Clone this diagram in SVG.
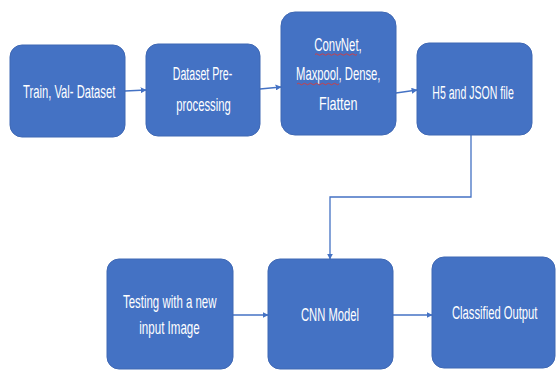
<svg xmlns="http://www.w3.org/2000/svg" width="557" height="370" viewBox="0 0 557 370">
<style>
.box{fill:#4472C4;stroke:#3f68b4;stroke-width:1}
.t{fill:#ffffff;font-family:"Liberation Sans",Arial,sans-serif;font-size:18px;text-anchor:middle}
.c{fill:none;stroke:#4472C4;stroke-width:1.3}
.sq{fill:none;stroke:#d83b3b;stroke-width:0.9}
</style>
<defs>
<marker id="ah" viewBox="0 0 10 10" refX="9" refY="5" markerWidth="6" markerHeight="6" orient="auto" markerUnits="userSpaceOnUse">
<path d="M0,0 L10,5 L0,10 z" fill="#4472C4"/>
</marker>
</defs>
<rect width="557" height="370" fill="#ffffff"/>
<g id="connectors">
<line class="c" x1="125" y1="91" x2="146" y2="90" marker-end="url(#ah)"/>
<line class="c" x1="260" y1="89" x2="281" y2="87" marker-end="url(#ah)"/>
<line class="c" x1="396" y1="93" x2="417" y2="90" marker-end="url(#ah)"/>
<polyline class="c" points="471,135 471,197 330,197 330,259" marker-end="url(#ah)"/>
<line class="c" x1="233" y1="315" x2="268" y2="315" marker-end="url(#ah)"/>
<line class="c" x1="393" y1="315" x2="432" y2="315" marker-end="url(#ah)"/>
</g>
<g id="n1">
<rect class="box" x="10" y="45" width="115" height="92" rx="12"/>
<text class="t" transform="translate(69.2,97.5) scale(0.623,1)">Train, Val- Dataset</text>
</g>
<g id="n2">
<rect class="box" x="146" y="44" width="114" height="92" rx="12"/>
<text class="t" transform="translate(202.5,80) scale(0.589,1)">Dataset Pre-</text>
<text class="t" transform="translate(203.5,110.5) scale(0.626,1)">processing</text>
</g>
<g id="n3">
<rect class="box" x="281" y="12" width="115" height="123" rx="14"/>
<text class="t" transform="translate(338,50.5) scale(0.633,1)">ConvNet,</text>
<text class="t" transform="translate(338.3,80) scale(0.625,1)">Maxpool, Dense,</text>
<text class="t" transform="translate(338.3,110) scale(0.7,1)">Flatten</text>
<path class="sq" d="M315,54.5 q1.5,-1.5 3,0 t3,0 t3,0 t3,0 t3,0 t3,0 t3,0 t3,0 t3,0 t3,0 t3,0 t3,0 t3,0 t3,0"/>
<path class="sq" d="M297,84 q1.5,-1.5 3,0 t3,0 t3,0 t3,0 t3,0 t3,0 t3,0 t3,0 t3,0 t3,0 t3,0 t3,0 t3,0 t3,0"/>
</g>
<g id="n4">
<rect class="box" x="417" y="43" width="115" height="92" rx="12"/>
<text class="t" transform="translate(473,98.5) scale(0.586,1)">H5 and JSON file</text>
</g>
<g id="n5">
<rect class="box" x="107" y="259" width="126" height="110" rx="12"/>
<text class="t" transform="translate(169.7,307.5) scale(0.636,1)">Testing with a new</text>
<text class="t" transform="translate(169.5,333.5) scale(0.643,1)">input Image</text>
</g>
<g id="n6">
<rect class="box" x="268" y="259" width="125" height="110" rx="12"/>
<text class="t" transform="translate(330,320.5) scale(0.624,1)">CNN Model</text>
</g>
<g id="n7">
<rect class="box" x="432" y="257" width="123" height="111" rx="12"/>
<text class="t" transform="translate(494.7,319) scale(0.624,1)">Classified Output</text>
</g>
</svg>
